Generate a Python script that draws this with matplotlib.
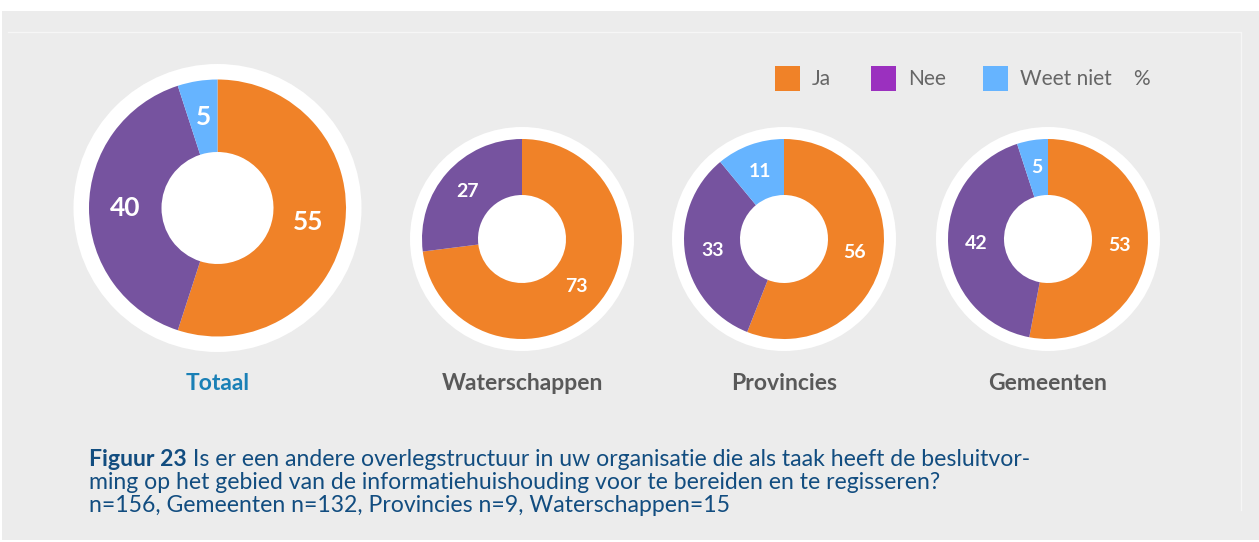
import matplotlib.pyplot as plt
import numpy as np
from matplotlib.patches import Circle, Rectangle

# data
categories = ['Totaal', 'Waterschappen', 'Provincies', 'Gemeenten']
answers = ['Ja', 'Nee', 'Weet niet']
ja = [55, 73, 56, 53]
nee = [40, 27, 33, 42]
weet_niet = [5, 0, 11, 5]

caption_bold = 'Figuur 23'
caption_lines = [
    ' Is er een andere overlegstructuur in uw organisatie die als taak heeft de besluitvor-',
    'ming op het gebied van de informatiehuishouding voor te bereiden en te regisseren?',
    'n=156, Gemeenten n=132, Provincies n=9, Waterschappen=15',
]

# styling
W, H = 1259, 542
pie_colors = ['#f08228', '#76539f', '#66b4ff']
legend_colors = ['#f08228', '#9b30bf', '#66b4ff']
bg = '#ececec'
centers = [(217.5, 208), (522, 239), (784, 239), (1048, 239)]
ring_r = [128.5, 100, 100, 100]
hole_r = [56, 44, 44, 44]
halo_r = [144, 112, 112, 112]
label_size = [19, 14, 14, 14]
title_colors = ['#1a80b6', '#595959', '#595959', '#595959']
font = 'Lato'

fig = plt.figure(figsize=(W / 100, H / 100), dpi=100)
fig.patch.set_facecolor('white')
ax = fig.add_axes([0, 0, 1, 1])


def py(y):
    # pixel row (top-down) -> data y (bottom-up)
    return H - y


ax.add_patch(Rectangle((2, py(540)), W - 2, 529, facecolor=bg, edgecolor='none', zorder=0))
ax.plot([8, 1241, 1241], [py(32), py(32), py(510)], color='#f6f6f6', lw=1, zorder=1)

for i, cat in enumerate(categories):
    cx, cy = centers[i][0], py(centers[i][1])
    vals = [ja[i], nee[i], weet_niet[i]]
    ax.add_patch(Circle((cx, cy), halo_r[i], facecolor='white', edgecolor='none', zorder=2))
    wedges, _ = ax.pie(vals, colors=pie_colors, startangle=90, counterclock=False,
                       radius=ring_r[i], center=(cx, cy),
                       wedgeprops=dict(width=ring_r[i] - hole_r[i], edgecolor='none', zorder=3))
    mid_r = (ring_r[i] + hole_r[i]) / 2
    for w, v in zip(wedges, vals):
        if v == 0:
            continue
        ang = np.deg2rad((w.theta1 + w.theta2) / 2)
        ax.text(cx + mid_r * np.cos(ang), cy + mid_r * np.sin(ang), str(v),
                ha='center', va='center', color='white', fontsize=label_size[i],
                fontweight='bold', family=font, zorder=4)
    ax.text(cx, py(383), cat, ha='center', va='center', color=title_colors[i],
            fontsize=16.5, fontweight='bold', family=font)

ax.set_xlim(0, W)
ax.set_ylim(0, H)
ax.set_aspect('auto')
ax.axis('off')

# legend
leg_x = [775, 871, 983]
for x, lab, c in zip(leg_x, answers, legend_colors):
    ax.add_patch(Rectangle((x, py(91)), 25, 25, facecolor=c, edgecolor='none'))
    ax.text(x + 37, py(79), lab, ha='left', va='center', color='#666666',
            fontsize=15, family=font)
ax.text(1133, py(79), '%', ha='left', va='center', color='#666666', fontsize=15, family=font)

# caption
cap_color = '#124d80'
cap_size = 16.6
line_y = [466, 489, 512]
t = ax.text(89, py(line_y[0]), caption_bold, ha='left', va='baseline', color=cap_color,
            fontsize=cap_size, fontweight='bold', family=font)
fig.canvas.draw()
bb = t.get_window_extent()
x_after = ax.transData.inverted().transform((bb.x1, bb.y0))[0]
ax.text(x_after, py(line_y[0]), caption_lines[0], ha='left', va='baseline', color=cap_color,
        fontsize=cap_size, family=font)
for y, line in zip(line_y[1:], caption_lines[1:]):
    ax.text(89, py(y), line, ha='left', va='baseline', color=cap_color, fontsize=cap_size,
            family=font)

fig.savefig('out.png', dpi=100, facecolor='white')
